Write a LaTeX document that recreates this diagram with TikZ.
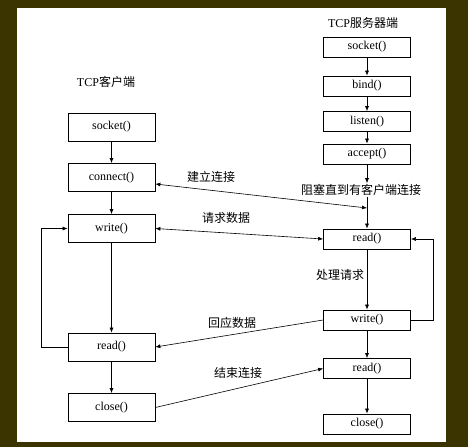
\documentclass[tikz,border=0pt]{standalone}
\usepackage{fontspec}
\setmainfont{Liberation Serif}
\newfontfamily\cjk{Noto Sans CJK SC}
\usetikzlibrary{arrows.meta}
\definecolor{framecol}{RGB}{60,52,0}
\begin{document}
\begin{tikzpicture}[x=1pt,y=-1pt,
  box/.style={draw, line width=0.7pt, minimum width=87pt, inner sep=0pt, font=\fontsize{12}{14}\selectfont},
  cbox/.style={box, minimum height=28pt},
  sbox/.style={box, minimum height=20pt},
  lbl/.style={font=\cjk\fontsize{12}{14}\selectfont, inner sep=1pt},
  ttl/.style={font=\fontsize{12}{14}\selectfont, inner sep=1pt},
  arr/.style={-{Latex[length=5pt,width=4pt]}, line width=0.6pt},
  darr/.style={{Latex[length=5pt,width=4pt]}-{Latex[length=5pt,width=4pt]}, line width=0.6pt}]
\useasboundingbox (0,0) rectangle (468,447);
\fill[framecol] (0,0) rectangle (468,447);
\fill[white] (17,8) rectangle (446,442);

% titles
\node[ttl] (ctitle) at (106,82) {TCP{\cjk 客户端}};
\node[ttl] (stitle) at (363,23) {TCP{\cjk 服务器端}};

% client column
\node[cbox] (csock)  at (111.5,127)   {socket()};
\node[cbox] (cconn)  at (111.5,177.5) {connect()};
\node[cbox] (cwrite) at (111.5,228.5) {write()};
\node[cbox] (cread)  at (111.5,347)   {read()};
\node[cbox] (cclose) at (111.5,407.5) {close()};

% server column
\node[sbox] (ssock)   at (367,47)    {socket()};
\node[sbox] (sbind)   at (367,86)    {bind()};
\node[sbox] (slisten) at (367,121.5) {listen()};
\node[sbox] (saccept) at (367,154)   {accept()};
\node[sbox] (sread)   at (367,239)   {read()};
\node[sbox] (swrite)  at (367,320)   {write()};
\node[sbox] (sread2)  at (367,368.5) {read()};
\node[sbox] (sclose)  at (367,424)   {close()};

% labels
\node[lbl] (block) at (361,190) {阻塞直到有客户端连接};
\node[lbl] (lconn) at (211,177) {建立连接};
\node[lbl] (lreq)  at (226,218) {请求数据};
\node[lbl] (lproc) at (340,275) {处理请求};
\node[lbl] (lresp) at (232,323) {回应数据};
\node[lbl] (lend)  at (238,373) {结束连接};

\coordinate (blk) at (367,208);

% client vertical arrows
\draw[arr] (csock) -- (cconn);
\draw[arr] (cconn) -- (cwrite);
\draw[arr] (cwrite) -- (cread);
\draw[arr] (cread) -- (cclose);

% server vertical arrows
\draw[arr] (ssock) -- (sbind);
\draw[arr] (sbind) -- (slisten);
\draw[arr] (slisten) -- (saccept);
\draw[arr] (saccept) -- (block.north -| saccept.south);
\draw[line width=0.6pt] (block.south -| saccept.south) -- (blk);
\draw[arr] (blk) -- (sread);
\draw[arr] (sread) -- (swrite);
\draw[arr] (swrite) -- (sread2);
\draw[arr] (sread2) -- (sclose);

% cross arrows
\draw[darr] ([yshift=-6.5pt]cconn.east) -- (blk);
\draw[darr] (cwrite.east) -- (sread.west);
\draw[arr] (swrite.west) -- (cread.east);
\draw[arr] (cclose.east) -- (sread2.west);

% loops
\draw[arr] (cread.west) -- ++(-26,0) |- (cwrite.west);
\draw[arr] (swrite.east) -- ++(22,0) |- (sread.east);
\end{tikzpicture}
\end{document}
